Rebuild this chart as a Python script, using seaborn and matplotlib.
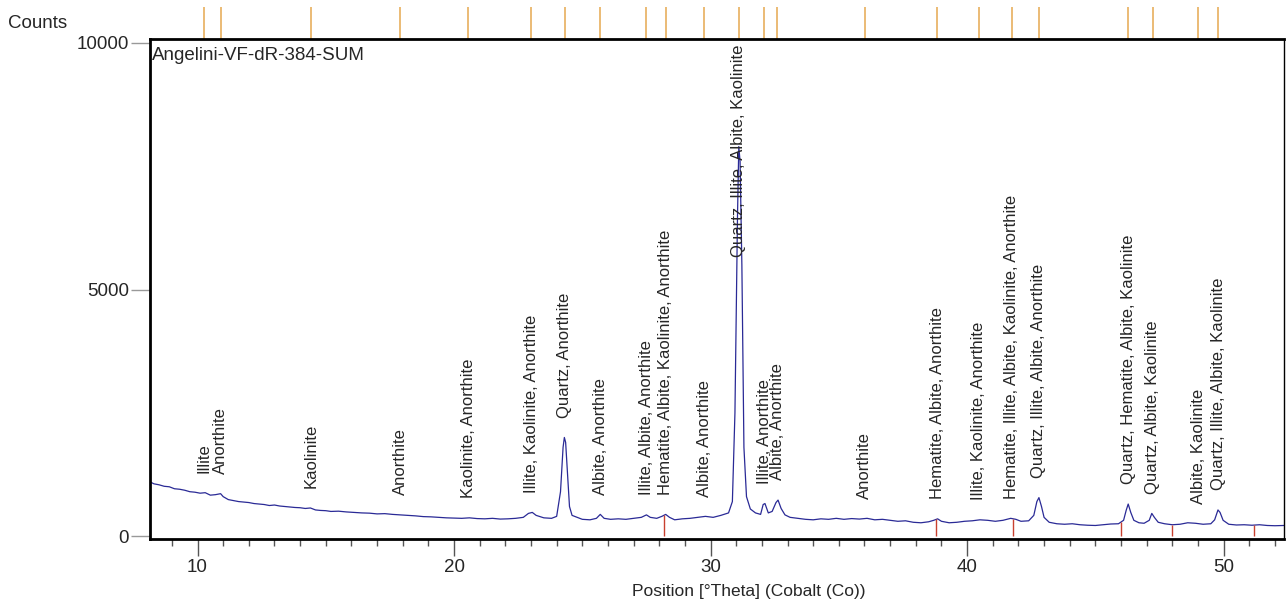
import matplotlib

matplotlib.use("Agg")
import matplotlib.pyplot as plt
import numpy as np
import pandas as pd
import seaborn as sns
from matplotlib.ticker import MultipleLocator

# scan (°2Theta, counts)
theta = [
    8.15, 8.3, 8.5, 8.7, 8.9, 9.1, 9.3, 9.5, 9.7, 9.9, 10.1, 10.3, 10.5, 10.7, 10.9,
    11.0, 11.2, 11.4, 11.6, 11.8, 12.0, 12.2, 12.4, 12.6, 12.8, 13.0, 13.2, 13.4, 13.6,
    13.8, 14.0, 14.2, 14.4, 14.6, 14.8, 15.0, 15.2, 15.5, 15.8, 16.1, 16.4, 16.7, 17.0,
    17.3, 17.6, 17.9, 18.2, 18.5, 18.8, 19.1, 19.4, 19.7, 20.0, 20.3, 20.6, 20.9, 21.2,
    21.5, 21.8, 22.1, 22.4, 22.7, 22.9, 23.05, 23.2, 23.5, 23.8, 24.0, 24.15, 24.25,
    24.3, 24.35, 24.42, 24.5, 24.6, 24.8, 25.0, 25.3, 25.55, 25.7, 25.85, 26.1, 26.4,
    26.7, 27.0, 27.3, 27.5, 27.65, 27.9, 28.1, 28.25, 28.4, 28.6, 28.9, 29.2, 29.5,
    29.8, 30.1, 30.4, 30.7, 30.85, 30.95, 31.05, 31.1, 31.15, 31.22, 31.3, 31.4, 31.55,
    31.75, 31.95, 32.05, 32.12, 32.25, 32.4, 32.55, 32.63, 32.75, 32.9, 33.1, 33.4,
    33.7, 34.0, 34.3, 34.6, 34.9, 35.2, 35.5, 35.8, 36.1, 36.4, 36.7, 37.0, 37.3, 37.6,
    37.9, 38.2, 38.5, 38.7, 38.85, 39.0, 39.3, 39.6, 39.9, 40.2, 40.5, 40.8, 41.1, 41.4,
    41.7, 41.9, 42.1, 42.4, 42.6, 42.72, 42.8, 42.9, 43.0, 43.2, 43.5, 43.8, 44.1, 44.4,
    44.7, 45.0, 45.3, 45.6, 45.9, 46.1, 46.2, 46.28, 46.38, 46.5, 46.7, 46.9, 47.1,
    47.2, 47.3, 47.45, 47.7, 48.0, 48.3, 48.6, 48.9, 49.2, 49.5, 49.65, 49.78, 49.86,
    49.98, 50.2, 50.5, 50.8, 51.1, 51.4, 51.7, 52.0, 52.35,
]
counts = [
    1100, 1060, 1040, 1010, 1000, 960, 950, 930, 900, 890, 870, 880, 830, 840, 860,
    800, 740, 720, 700, 690, 680, 660, 650, 640, 620, 630, 610, 600, 590,
    580, 575, 560, 570, 530, 520, 515, 500, 505, 490, 480, 470, 465, 450,
    455, 440, 430, 420, 410, 395, 390, 380, 370, 365, 360, 370, 355, 350,
    360, 345, 350, 360, 380, 460, 480, 420, 370, 360, 400, 900, 1800,
    2000, 1900, 1300, 600, 420, 380, 340, 330, 360, 440, 360, 340, 350,
    340, 360, 380, 430, 380, 360, 400, 440, 380, 330, 350, 360, 380,
    400, 380, 420, 470, 700, 2500, 6500, 7900, 7600, 5500, 1800, 800, 550,
    470, 440, 640, 660, 470, 500, 680, 730, 560, 430, 380, 360,
    340, 330, 350, 340, 360, 340, 355, 345, 360, 330, 340, 320, 300, 310,
    280, 270, 290, 320, 350, 300, 270, 280, 300, 310, 330, 320, 300, 320,
    360, 340, 300, 310, 420, 700, 780, 600, 380, 280, 250, 240, 250, 230,
    220, 215, 230, 245, 250, 320, 520, 650, 480, 320, 270, 260, 320,
    460, 380, 280, 250, 230, 240, 270, 260, 240, 250, 330, 530, 480,
    320, 240, 225, 230, 220, 230, 215, 210, 215,
]

# identified peaks
peak_pos = [
    10.25, 10.91, 14.43, 17.90, 20.55, 23.00, 24.32, 25.70, 27.50, 28.25, 29.75,
    31.10, 32.09, 32.60, 36.01, 38.83, 40.45, 41.75, 42.79, 46.29, 47.23, 49.01, 49.80,
]
peak_labels = [
    "Illite", "Anorthite", "Kaolinite", "Anorthite", "Kaolinite, Anorthite",
    "Illite, Kaolinite, Anorthite", "Quartz, Anorthite", "Albite, Anorthite",
    "Illite, Albite, Anorthite", "Hematite, Albite, Kaolinite, Anorthite",
    "Albite, Anorthite", "Quartz, Illite, Albite, Kaolinite", "Illite, Anorthite",
    "Albite, Anorthite", "Anorthite", "Hematite, Albite, Anorthite",
    "Illite, Kaolinite, Anorthite", "Hematite, Illite, Albite, Kaolinite, Anorthite",
    "Quartz, Illite, Albite, Anorthite", "Quartz, Hematite, Albite, Kaolinite",
    "Quartz, Albite, Kaolinite", "Albite, Kaolinite", "Quartz, Illite, Albite, Kaolinite",
]
# reference lines at the bottom
ref_marks = [28.17, 38.8, 41.8, 46.0, 48.0, 51.2]

sample_name = "Angelini-VF-dR-384-SUM"

df = pd.DataFrame({"theta": theta, "counts": counts})

sns.set_theme(style="ticks")
plt.rcParams["font.family"] = ["Liberation Sans", "DejaVu Sans"]

fig = plt.figure(figsize=(12.87, 6.06), dpi=100)
ax = fig.add_axes([0.1166, 0.110, 0.881, 0.8256])

sns.lineplot(data=df, x="theta", y="counts", color="#2a2a96", linewidth=0.9, ax=ax)

ax.set_xlim(8.15, 52.35)
ax.set_ylim(-66, 10080)

# peak markers above the frame
ax.vlines(peak_pos, 1.0, 1.064, transform=ax.get_xaxis_transform(),
          colors="#e9b56a", linewidth=1.3, clip_on=False)

# reference lines from the baseline
ax.vlines(ref_marks, 0, np.interp(ref_marks, theta, counts), colors="#c8402f", linewidth=1.0)

th = np.array(theta)
ct = np.array(counts)
for pos, lab in zip(peak_pos, peak_labels):
    near = ct[(th >= pos - 0.12) & (th <= pos + 0.12)]
    top = near.max() if len(near) else np.interp(pos, th, ct)
    if top > 4000:
        ax.text(pos, 9960, lab, rotation=90, ha="center", va="top", fontsize=12)
    else:
        ax.text(pos, top + 400, lab, rotation=90, ha="center", va="bottom", fontsize=12)

ax.text(0.002, 0.985, sample_name, transform=ax.transAxes, ha="left", va="top", fontsize=13.5)

ax.set_yticks([0, 5000, 10000])
ax.xaxis.set_major_locator(MultipleLocator(10))
ax.xaxis.set_minor_locator(MultipleLocator(1))
ax.tick_params(axis="y", length=14, width=1, color="#999999", labelsize=13.5, pad=1)
ax.tick_params(axis="x", which="major", length=12, width=1, color="#555555",
               labelsize=13.5, pad=2)
ax.tick_params(axis="x", which="minor", length=5, width=1, color="#555555")
ax.set_ylabel("")
ax.set_xlabel("Position [°Theta] (Cobalt (Co))", fontsize=12.5)
ax.xaxis.set_label_coords(0.528, -0.09)

for side in ["left", "right", "top", "bottom"]:
    ax.spines[side].set_visible(True)
    ax.spines[side].set_linewidth(2)
    ax.spines[side].set_color("black")
ax.spines["right"].set_linewidth(1)

fig.text(8 / 1287, 1 - 23 / 606, "Counts", ha="left", va="center", fontsize=13.5)

fig.savefig("out.png", dpi=100)
